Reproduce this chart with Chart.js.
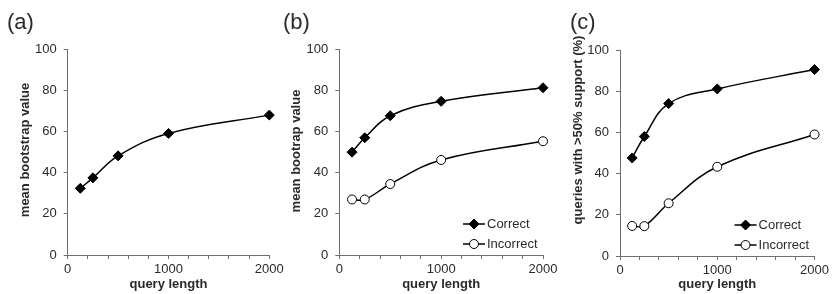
<!DOCTYPE html>
<html>
<head>
<meta charset="utf-8">
<script src="https://cdn.jsdelivr.net/npm/chart.js@4.4.1/dist/chart.umd.min.js"></script>
<style>
  html, body { margin: 0; padding: 0; background: #fff; }
  #wrap { position: relative; width: 832px; height: 294px; overflow: hidden; }
  canvas { position: absolute; top: 0; }
</style>
</head>
<body>
<div id="wrap">
  <canvas id="chart-a" width="290" height="294" style="left:0"></canvas>
  <canvas id="chart-b" width="285" height="294" style="left:280px"></canvas>
  <canvas id="chart-c" width="282" height="294" style="left:550px"></canvas>
</div>
<script>
// data
const queryLength = [125, 250, 500, 1000, 2000];
const bootstrapAll = [32.4, 37.5, 48.2, 59.1, 68];
const bootrapCorrect = [50, 57, 67.7, 74.7, 81.3];
const bootrapIncorrect = [27, 27, 34.5, 46.2, 55.3];
const supportCorrect = [47.6, 58, 74, 81.1, 90.5];
const supportIncorrect = [14.6, 14.5, 25.6, 43.3, 59];
const xLabelled = [0, 1000, 2000];
const seriesNames = ['Correct', 'Incorrect'];

const FONT = "'Liberation Sans', Arial, sans-serif";
const TEXT = '#2a2a2a';
const AXIS = '#6f6f6f';

const pts = ys => queryLength.map((x, i) => ({ x, y: ys[i] }));

function series(label, ys, open) {
  return {
    label,
    data: pts(ys),
    showLine: true,
    clip: false,
    borderColor: '#000',
    borderWidth: 1.5,
    tension: 0.4,
    pointStyle: open ? 'circle' : 'rectRot',
    pointRadius: open ? 4.5 : 5,
    pointBackgroundColor: open ? '#fff' : '#000',
    pointBorderColor: '#000',
    pointBorderWidth: 1
  };
}

/* panel letter, rotated y title and the in-plot legend */
const panelText = {
  id: 'panelText',
  afterDraw(chart, args, o) {
    const ctx = chart.ctx;
    ctx.save();
    ctx.fillStyle = TEXT;
    ctx.font = `22px ${FONT}`;
    ctx.textBaseline = 'top';
    ctx.textAlign = 'left';
    ctx.fillText(o.letter, o.letterX, o.letterY);

    ctx.save();
    ctx.translate(o.yTitleX, o.yTitleY);
    ctx.rotate(-Math.PI / 2);
    ctx.font = `bold 13px ${FONT}`;
    ctx.textAlign = 'center';
    ctx.textBaseline = 'middle';
    ctx.fillText(o.yTitle, 0, 0);
    ctx.restore();

    if (o.legend) {
      const { right, bottom } = chart.chartArea;
      ctx.font = `13px ${FONT}`;
      ctx.textBaseline = 'middle';
      chart.data.datasets.forEach((ds, i) => {
        const y = bottom - 31 + i * 20;
        ctx.strokeStyle = '#000';
        ctx.lineWidth = 1.5;
        ctx.beginPath();
        ctx.moveTo(right - 80, y);
        ctx.lineTo(right - 58, y);
        ctx.stroke();
        ctx.fillStyle = ds.pointBackgroundColor;
        ctx.lineWidth = 1;
        Chart.helpers.drawPoint(ctx, { pointStyle: ds.pointStyle, radius: ds.pointRadius, rotation: 0, borderWidth: 1 }, right - 69, y);
        ctx.fillStyle = TEXT;
        ctx.fillText(ds.label, right - 56, y);
      });
    }
    ctx.restore();
  }
};

function makePanel(id, cfg) {
  const canvas = document.getElementById(id);
  const W = canvas.width, H = canvas.height;
  return new Chart(canvas, {
    type: 'scatter',
    data: { datasets: cfg.datasets },
    plugins: [panelText],
    options: {
      responsive: false,
      animation: false,
      events: [],
      layout: { autoPadding: false, padding: { left: 0, top: cfg.top, right: W - cfg.right, bottom: 0 } },
      plugins: {
        legend: { display: false },
        tooltip: { enabled: false },
        panelText: cfg.text
      },
      scales: {
        x: {
          type: 'linear', min: 0, max: 2000,
          afterFit: s => { s.height = H - cfg.bottom; },
          ticks: {
            stepSize: 200, color: TEXT, padding: 3, maxRotation: 0, autoSkip: false,
            font: { family: FONT, size: 13 },
            callback: v => xLabelled.includes(v) ? String(v) : ''
          },
          grid: { drawOnChartArea: false, tickLength: 4, color: AXIS },
          border: { color: AXIS, width: 1 },
          title: { display: true, text: 'query length', color: TEXT, font: { family: FONT, size: 13, weight: 'bold' }, padding: { top: 2, bottom: 2 } }
        },
        y: {
          min: 0, max: 100,
          afterFit: s => { s.width = cfg.left; },
          ticks: { stepSize: 20, color: TEXT, padding: 7, font: { family: FONT, size: 13 } },
          grid: { drawOnChartArea: false, tickLength: 4, color: AXIS },
          border: { color: AXIS, width: 1 }
        }
      }
    }
  });
}

makePanel('chart-a', {
  left: 67.7, right: 269.3, top: 49.3, bottom: 255,
  datasets: [series('all', bootstrapAll, false)],
  text: { letter: '(a)', letterX: 7, letterY: 12, yTitle: 'mean bootstrap value', yTitleX: 25, yTitleY: 150 }
});

makePanel('chart-b', {
  left: 59.3, right: 263, top: 49.3, bottom: 255,
  datasets: [series(seriesNames[0], bootrapCorrect, false), series(seriesNames[1], bootrapIncorrect, true)],
  text: { letter: '(b)', letterX: 3, letterY: 12, yTitle: 'mean bootrap value', yTitleX: 16.7, yTitleY: 151, legend: true }
});

makePanel('chart-c', {
  left: 70, right: 269.3, top: 50, bottom: 256,
  datasets: [series(seriesNames[0], supportCorrect, false), series(seriesNames[1], supportIncorrect, true)],
  text: { letter: '(c)', letterX: 20, letterY: 12, yTitle: 'queries with >50% support (%)', yTitleX: 28.3, yTitleY: 130, legend: true }
});
</script>
</body>
</html>
